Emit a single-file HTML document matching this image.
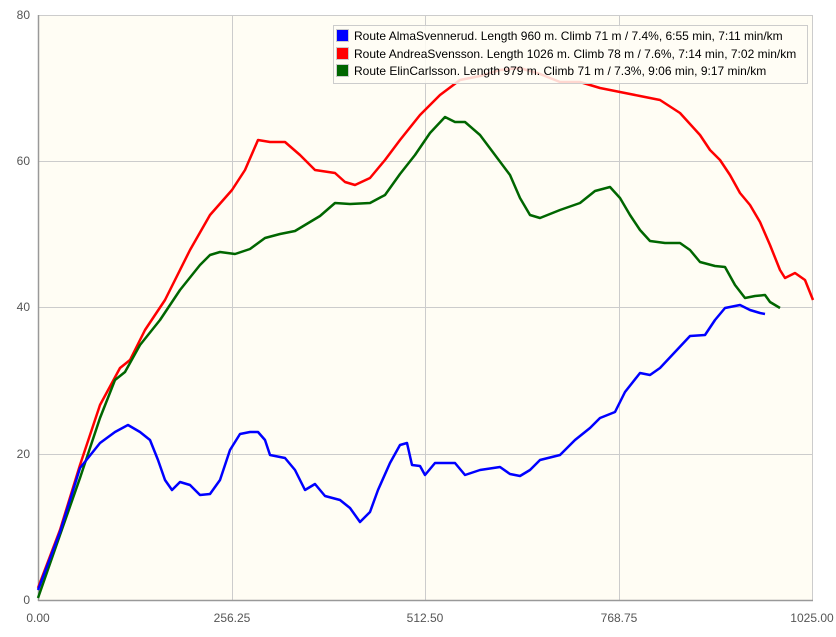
<!DOCTYPE html><html><head><style>body{margin:0;background:#fff}svg{display:block;font-family:"Liberation Sans",sans-serif}</style></head><body>
<svg width="836" height="637" viewBox="0 0 836 637">
<rect x="38" y="15" width="775" height="585" fill="#fffdf4"/>
<g stroke="#ccc" stroke-width="1">
<line x1="232.5" y1="15" x2="232.5" y2="600"/><line x1="425.5" y1="15" x2="425.5" y2="600"/><line x1="619.5" y1="15" x2="619.5" y2="600"/><line x1="812.5" y1="15" x2="812.5" y2="600"/>
<line x1="38" y1="454.5" x2="813" y2="454.5"/><line x1="38" y1="307.5" x2="813" y2="307.5"/><line x1="38" y1="161.5" x2="813" y2="161.5"/><line x1="38" y1="15.5" x2="813" y2="15.5"/>
</g>
<g stroke="#999" stroke-width="1.5"><line x1="38.5" y1="15" x2="38.5" y2="601"/><line x1="38" y1="600.5" x2="813" y2="600.5"/></g>
<g fill="#555" font-size="12" text-anchor="end"><text x="30" y="604">0</text><text x="30" y="458">20</text><text x="30" y="311">40</text><text x="30" y="165">60</text><text x="30" y="19">80</text></g>
<g fill="#555" font-size="12" text-anchor="middle"><text x="38" y="622">0.00</text><text x="232" y="622">256.25</text><text x="425" y="622">512.50</text><text x="619" y="622">768.75</text><text x="812" y="622">1025.00</text></g>
<g fill="none" stroke-width="2.5" stroke-linejoin="round">
<polyline stroke="#f00" points="38,588 60,530 80,465 100,405 120,368 130,360 145,330 165,300 190,250 210,215 232,190 245,170 258,140 270,142 285,142 300,155 315,170 335,173 345,182 355,185 370,178 385,160 400,140 420,115 440,95 460,80 480,76 500,70 520,68 540,74 560,82 580,82 600,88 620,92 640,96 660,100 680,113 700,135 710,150 720,160 730,175 740,193 750,205 760,222 770,245 780,270 785,278 795,273 805,280 813,300"/>
<polyline stroke="#060" points="38,598 60,535 80,478 100,418 115,380 125,372 140,345 160,320 180,290 200,265 210,255 220,252 235,254 250,249 265,238 280,234 295,231 310,222 320,216 335,203 350,204 370,203 385,195 400,174 415,155 430,133 445,117 455,122 465,122 480,135 495,155 510,175 520,198 530,215 540,218 560,210 580,203 595,191 610,187 620,198 630,215 640,230 650,241 665,243 680,243 690,250 700,262 715,266 725,267 735,285 745,298 755,296 765,295 770,302 780,308"/>
<polyline stroke="#00f" points="38,590 60,532 80,468 100,443 115,432 128,425 140,432 150,440 158,460 165,480 172,490 180,482 190,485 200,495 210,494 220,480 230,450 240,434 250,432 258,432 265,440 270,455 285,458 295,470 305,490 315,484 325,496 340,500 350,508 360,522 370,512 378,490 390,463 400,445 407,443 412,465 420,466 425,475 435,463 445,463 455,463 465,475 480,470 500,467 510,474 520,476 530,470 540,460 560,455 575,440 590,428 600,418 615,412 625,392 640,373 650,375 660,368 675,352 690,336 705,335 715,320 725,308 740,305 750,310 760,313 765,314"/>
</g>
<rect x="333.5" y="25.5" width="474" height="58" fill="#fffdf4" fill-opacity="0.85" stroke="#ccc"/>
<g stroke="#ccc"><rect x="336.5" y="29.5" width="12" height="12" fill="#00f"/><rect x="336.5" y="47.5" width="12" height="12" fill="#f00"/><rect x="336.5" y="64.5" width="12" height="12" fill="#060"/></g>
<g font-size="12" fill="#000"><text x="354" y="40">Route AlmaSvennerud. Length 960 m. Climb 71 m / 7.4%, 6:55 min, 7:11 min/km</text><text x="354" y="58">Route AndreaSvensson. Length 1026 m. Climb 78 m / 7.6%, 7:14 min, 7:02 min/km</text><text x="354" y="75">Route ElinCarlsson. Length 979 m. Climb 71 m / 7.3%, 9:06 min, 9:17 min/km</text></g>
</svg></body></html>
